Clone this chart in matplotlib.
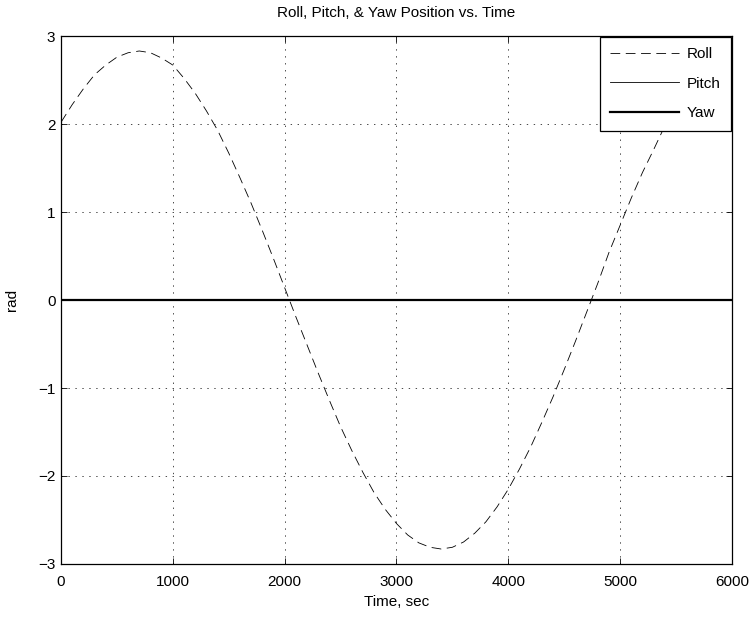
import numpy as np
import matplotlib
matplotlib.use('Agg')
import matplotlib.pyplot as plt

plt.rcParams['font.family'] = ['Liberation Sans', 'DejaVu Sans']
plt.rcParams['font.size'] = 11
plt.rcParams['lines.scale_dashes'] = False

# time samples, sec
time = np.arange(0, 6001, 100)
# roll angle, rad
roll = [2.02, 2.22, 2.40, 2.56, 2.67, 2.76, 2.81, 2.83, 2.81, 2.75,
        2.67, 2.52, 2.35, 2.15, 1.93, 1.67, 1.39, 1.10, 0.79, 0.47,
        0.14, -0.19, -0.51, -0.83, -1.14, -1.44, -1.71, -1.96, -2.19, -2.38,
        -2.54, -2.67, -2.76, -2.81, -2.83, -2.81, -2.75, -2.65, -2.52, -2.35,
        -2.15, -1.92, -1.67, -1.39, -1.10, -0.79, -0.47, -0.14, 0.19, 0.54,
        0.85, 1.16, 1.45, 1.71, 1.98, 2.19, 2.39, 2.54, 2.67, 2.76,
        2.81]
pitch = [0.0] * len(time)
yaw = [0.0] * len(time)

fig = plt.figure(figsize=(7.55, 6.18), dpi=100)
ax = fig.add_axes([0.0808, 0.0874, 0.8887, 0.8543])

ax.plot(time, roll, color='black', linewidth=0.6, dashes=(7, 4), label='Roll')
ax.plot(time, pitch, color='black', linewidth=0.6, label='Pitch')
ax.plot(time, yaw, color='black', linewidth=1.6, label='Yaw')

ax.set_xlim(0, 6000)
ax.set_ylim(-3, 3)
ax.set_xticks(range(0, 6001, 1000))
ax.set_yticks(range(-3, 4))
ax.set_yticklabels(['\u22123', '\u22122', '\u22121', '0', '1', '2', '3'])
ax.grid(True, color='black', linestyle=(0, (1, 4)), linewidth=0.5)
ax.tick_params(direction='in', top=True, right=True, length=4, width=0.6,
               labelsize=11)
ax.tick_params(axis='x', pad=8)
ax.tick_params(axis='y', pad=4)
for s in ax.spines.values():
    s.set_linewidth(0.9)

ax.set_title('Roll, Pitch, & Yaw Position vs. Time', fontsize=11, pad=14)
ax.set_xlabel('Time, sec', fontsize=11, labelpad=4)
ax.set_ylabel('rad', fontsize=11, labelpad=14)

leg = ax.legend(loc='upper right', fancybox=False, edgecolor='black',
                framealpha=1, borderaxespad=0.05, handlelength=4.5,
                handletextpad=0.5, labelspacing=1.0, borderpad=0.7,
                fontsize=11)
leg.get_frame().set_linewidth(0.9)

fig.savefig('out.png', dpi=100)
